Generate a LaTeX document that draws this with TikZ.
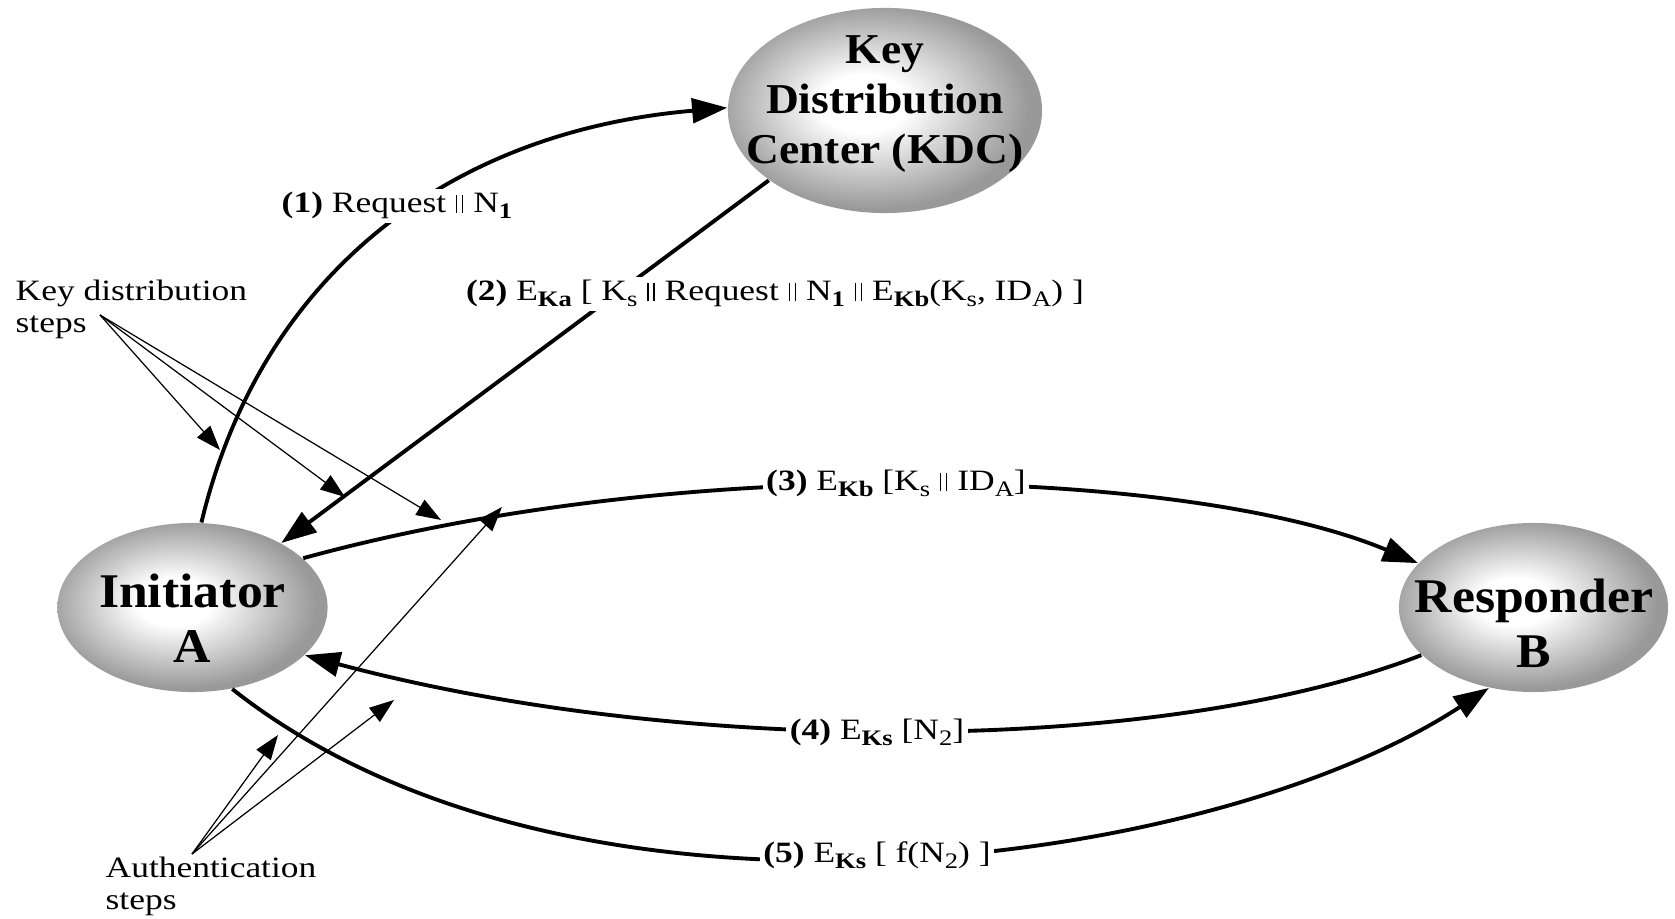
\documentclass[tikz,border=0pt]{standalone}
\usepackage{fontspec}
\setmainfont{Liberation Serif}[FakeStretch=1.2]
\newfontfamily\nodefont{Liberation Serif}[FakeStretch=1.07]
\usetikzlibrary{shapes.geometric,arrows.meta}
\pgfdeclareradialshading{ballshade}{\pgfpoint{-4bp}{2bp}}{color(0bp)=(white); color(7bp)=(white); color(25bp)=(black!40); color(50bp)=(black!40)}
\newcommand{\cc}{\kern0.3pt\rule[0pt]{0.4pt}{0.6em}\kern1.3pt\rule[0pt]{0.4pt}{0.6em}\kern0.3pt}
\newcommand{\sbs}[1]{\raisebox{-1.7pt}{\fontsize{6.3}{6.3}\selectfont #1}}
\begin{document}
\begin{tikzpicture}[x=0.01cm,y=-0.01cm,
  party/.style={ellipse, shade, shading=ballshade, inner sep=0pt},
  ptxt/.style={align=center, inner sep=0pt, font=\nodefont\bfseries\fontsize{13.75}{15.65}\selectfont},
  msg/.style={line width=1.1pt, -{Triangle[length=10pt,width=7pt]}},
  note/.style={line width=0.35pt, -{Triangle[length=7pt,width=5pt]}},
  lab/.style={fill=white, inner xsep=1pt, inner ysep=1pt, anchor=base, font=\fontsize{8.4}{9.4}\selectfont},
  annot/.style={align=left, inner sep=0pt, anchor=base west, font=\fontsize{8.4}{9.2}\selectfont}
]
\useasboundingbox (0,0) rectangle (1675,919);

% parties
\node[party, minimum width=2.7cm, minimum height=1.69cm] (A) at (192.5,607.5) {};
\node[party, minimum width=3.14cm, minimum height=2.05cm] (kdc) at (885,110.5) {};
\node[party, minimum width=2.69cm, minimum height=1.69cm] (B) at (1533.5,607.5) {};
\node[ptxt] (Atxt) at (192.5,618.5) {Initiator\\A};
\node[ptxt, font=\nodefont\bfseries\fontsize{12.1}{14.2}\selectfont] (kdctxt) at (885,103.7) {Key\\Distribution\\Center (KDC)};
\node[ptxt] (Btxt) at (1534,623) {Responder\\B};

% messages
\draw[msg] (A.84) .. controls (260,278) and (445,132) .. (kdc.179);
\draw[msg] (kdc.211) -- (A.36);
\draw[msg] (A.24) .. controls (697,450) and (1196,470) .. (B.159);
\draw[msg] (B.203) .. controls (1161.5,756) and (680.8,756) .. (A.-23);
\draw[msg] (A.-64) .. controls (574,959) and (1214,868) .. (B.241);

% message labels
\node[lab] (l1) at (397,213) {\textbf{(1)} Request \cc{} N\sbs{\textbf{1}}};
\node[lab] (l2) at (775,301) {\textbf{(2)} E\sbs{\textbf{Ka}} [ K\sbs{s} \cc{} Request \cc{} N\sbs{\textbf{1}} \cc{} E\sbs{\textbf{Kb}}(K\sbs{s}, ID\sbs{A}) ]};
\node[lab] (l3) at (896,491) {\textbf{(3)} E\sbs{\textbf{Kb}} [K\sbs{s} \cc{} ID\sbs{A}]};
\node[lab] (l4) at (877,740) {\textbf{(4)} E\sbs{\textbf{Ks}} [N\sbs{2}]};
\node[lab] (l5) at (877,863) {\textbf{(5)} E\sbs{\textbf{Ks}} [ f(N\sbs{2}) ]};

% annotations
\node[annot] (kds) at (15,333) {Key distribution\\steps};
\coordinate (kdo) at (100,315);
\coordinate (k1) at (220,450);
\coordinate (k2) at (345,497);
\coordinate (k3) at (441,520);
\draw[note] (kdo) -- (k1);
\draw[note] (kdo) -- (k2);
\draw[note] (kdo) -- (k3);

\node[annot] (aus) at (105,910) {Authentication\\steps};
\coordinate (auo) at (192,854);
\coordinate (a3) at (502,507);
\coordinate (a4) at (394,700);
\coordinate (a5) at (278,735);
\draw[note] (auo) -- (a3);
\draw[note] (auo) -- (a4);
\draw[note] (auo) -- (a5);
\end{tikzpicture}
\end{document}
